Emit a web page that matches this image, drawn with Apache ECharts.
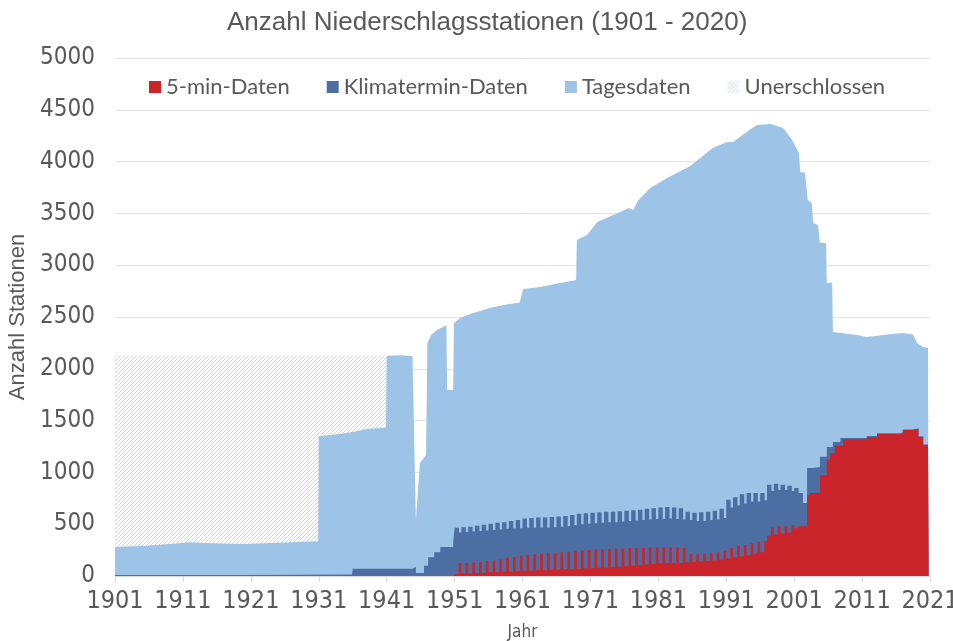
<!DOCTYPE html>
<html>
<head>
<meta charset="utf-8">
<script src="https://cdn.jsdelivr.net/npm/echarts@6/dist/echarts.min.js"></script>
<style>
  html, body { margin: 0; padding: 0; background: #fff; }
  #chart { width: 953px; height: 641px; }
</style>
</head>
<body>
<div id="chart"></div>
<script>
// Achsen
const xTicks = [1901, 1911, 1921, 1931, 1941, 1951, 1961, 1971, 1981, 1991, 2001, 2011, 2021]

// Tagesdaten (Gesamtzahl), [Jahr, Stationen]
const tagesdaten = [
  [1901, 280], [1905, 290], [1909, 310], [1912, 325], [1915, 315], [1920, 310], [1925, 320],
  [1930.9, 335], [1931, 1350], [1934, 1370], [1936, 1390], [1938, 1420], [1940.9, 1430],
  [1941, 2125], [1943, 2130], [1944.8, 2120], [1945.3, 540], [1945.9, 1090], [1946.8, 1170],
  [1947, 2250], [1947.6, 2330], [1948.4, 2375], [1949.8, 2420], [1949.9, 1795], [1950.8, 1795],
  [1950.9, 2440], [1951.8, 2490], [1953.3, 2530], [1956.2, 2587], [1958.2, 2616], [1960.6, 2640],
  [1961.1, 2770], [1963.6, 2790], [1966, 2820], [1968.9, 2857], [1969, 3243], [1970.5, 3292],
  [1972, 3417], [1975.4, 3514], [1976.6, 3552], [1977.3, 3533], [1978, 3623], [1979.8, 3745],
  [1982.3, 3842], [1985.7, 3958], [1989, 4131], [1991.1, 4189], [1992, 4189], [1994, 4286],
  [1995.5, 4353], [1997.5, 4363], [1999.4, 4325], [2000.7, 4209], [2001.7, 4083], [2001.9, 3900],
  [2002.6, 3890], [2003, 3630], [2003.6, 3600], [2003.8, 3407], [2004.5, 3388], [2004.8, 3214],
  [2005.7, 3214], [2005.8, 2828], [2006.6, 2828], [2006.7, 2355], [2010.3, 2326], [2011.7, 2307],
  [2014.7, 2330], [2017, 2345], [2018.5, 2330], [2019.1, 2249], [2020, 2210], [2020.7, 2200],
  [2020.8, 0]
]

// nicht erschlossener Bereich
const unerschlossen = [[1901, 2130], [1941, 2130]]

// Klimatermin-Daten
const klimaVorher = [
  [1901, 10], [1920, 15], [1935.9, 15], [1936, 70], [1944.8, 87], [1945.3, 30], [1946.5, 100],
  [1947.1, 180], [1948, 230], [1948.9, 280], [1950.8, 330]
]
// Jahreswerte 1951-2001 (Maximum und Minimum im Jahr)
const klimaHoch = [
  465, 470, 475, 485, 495, 505, 515, 520, 530, 540,
  555, 560, 565, 565, 570, 575, 580, 590, 600, 605,
  610, 615, 620, 620, 625, 630, 635, 640, 650, 655,
  660, 665, 660, 655, 620, 610, 615, 620, 630, 650,
  735, 760, 790, 800, 800, 800, 880, 890, 880, 870,
  850
]
const klimaTief = [
  420, 425, 430, 435, 440, 445, 450, 455, 460, 460,
  465, 465, 465, 465, 470, 475, 480, 490, 500, 505,
  510, 515, 520, 520, 525, 530, 535, 540, 545, 550,
  550, 555, 550, 545, 540, 530, 530, 540, 545, 560,
  660, 680, 700, 720, 720, 730, 820, 830, 830, 820,
  800
]
const klimaNachher = [
  [2002.3, 704], [2002.9, 1042], [2003.8, 1052], [2004.8, 1150], [2005.8, 1245], [2006.7, 1293],
  [2007.8, 1332], [2011.7, 1352], [2013.2, 1378], [2016.6, 1388], [2017, 1415], [2018.4, 1425],
  [2019.3, 1350], [2020, 1270], [2020.7, 1260], [2020.8, 0]
]

// 5-min-Daten
const minHoch = [
  125, 125, 130, 135, 145, 150, 160, 175, 185, 195,
  205, 210, 215, 220, 225, 230, 235, 240, 245, 250,
  255, 255, 260, 265, 265, 270, 270, 270, 275, 275,
  275, 275, 275, 270, 215, 210, 215, 220, 230, 245,
  270, 290, 300, 315, 330, 340, 470, 480, 480, 490,
  480
]
const minTief = [
  20, 25, 25, 30, 30, 35, 35, 40, 40, 45,
  50, 50, 55, 55, 60, 60, 65, 65, 70, 75,
  75, 80, 80, 85, 90, 95, 100, 105, 110, 115,
  120, 125, 125, 125, 130, 135, 140, 145, 150, 160,
  170, 180, 190, 200, 215, 230, 390, 400, 410, 420,
  460
]
const minNachher = [
  [2002.3, 480], [2002.9, 780], [2003.3, 800], [2004.8, 970], [2005.8, 1120], [2006.3, 1185],
  [2007, 1260], [2008.2, 1320], [2011.7, 1342], [2013.2, 1370], [2016.6, 1380], [2017, 1409],
  [2018.4, 1419], [2019.3, 1342], [2020, 1264], [2020.7, 1255], [2020.8, 0]
]

const ersteJahr = 1951

// Zahnmuster: je Jahr ein hoher und ein tiefer Wert
function zaehne(hoch, tief, hochZuerst) {
  const pts = []
  hoch.forEach((h, i) => {
    const j = ersteJahr + i
    if (hochZuerst) {
      pts.push([j, h], [j + 0.65, tief[i]])
    } else {
      pts.push([j, tief[i]], [j + 0.6, h])
    }
  })
  return pts
}

const klimaDaten = klimaVorher.concat(zaehne(klimaHoch, klimaTief, true), klimaNachher)
const minDaten = [[1901, 0], [1950.9, 0]].concat(zaehne(minHoch, minTief, false), minNachher)

// Schraffur
function schraffur() {
  const c = document.createElement('canvas')
  c.width = 4
  c.height = 4
  const g = c.getContext('2d')
  g.fillStyle = '#ffffff'
  g.fillRect(0, 0, 4, 4)
  g.strokeStyle = '#cbd6ea'
  g.lineWidth = 1
  g.beginPath()
  g.moveTo(0, 4); g.lineTo(4, 0)
  g.moveTo(-1, 1); g.lineTo(1, -1)
  g.moveTo(3, 5); g.lineTo(5, 3)
  g.stroke()
  return { image: c, repeat: 'repeat' }
}

const farben = {
  min: '#c9252a',
  klima: '#4c6ea3',
  tag: '#9dc3e6'
}

const mychart = echarts.init(document.getElementById('chart'))
const muster = schraffur()
const grau = '#595959'
const schmal = "'Liberation Sans Narrow', 'DejaVu Sans Condensed', 'Liberation Sans', sans-serif"

mychart.setOption({
  animation: false,
  title: {
    text: 'Anzahl Niederschlagsstationen (1901 - 2020)',
    left: 222,
    top: 5,
    textStyle: {
      fontFamily: 'Liberation Sans',
      fontSize: 26,
      fontWeight: 'normal',
      color: grau
    }
  },
  legend: {
    left: 144,
    top: 71,
    icon: 'rect',
    itemWidth: 12,
    itemHeight: 12,
    itemGap: 37,
    textStyle: { fontFamily: 'Lato', fontSize: 22, color: grau },
    data: [
      { name: '5-min-Daten', itemStyle: { color: farben.min } },
      { name: 'Klimatermin-Daten', itemStyle: { color: farben.klima } },
      { name: 'Tagesdaten', itemStyle: { color: farben.tag } },
      { name: 'Unerschlossen', itemStyle: { color: muster } }
    ]
  },
  grid: {
    left: 115,
    right: 23,
    top: 58,
    bottom: 65,
    outerBoundsMode: 'none'
  },
  xAxis: {
    type: 'value',
    min: 1901,
    max: 2021,
    name: 'Jahr',
    nameLocation: 'middle',
    nameGap: 48,
    nameTextStyle: { fontFamily: schmal, fontSize: 17, color: grau },
    axisLine: { show: true, lineStyle: { color: '#d9d9d9' } },
    axisTick: { show: true, length: 6, lineStyle: { color: '#d9d9d9' }, customValues: xTicks },
    axisLabel: {
      customValues: xTicks,
      formatter: v => String(v),
      fontFamily: schmal,
      fontSize: 25,
      color: grau,
      margin: 13
    },
    splitLine: { show: false }
  },
  yAxis: {
    type: 'value',
    min: 0,
    max: 5000,
    interval: 500,
    name: 'Anzahl Stationen',
    nameLocation: 'middle',
    nameGap: 81,
    nameTextStyle: { fontFamily: 'Liberation Sans', fontSize: 22, color: grau },
    axisLine: { show: false },
    axisTick: { show: false },
    axisLabel: {
      formatter: v => String(v),
      fontFamily: schmal,
      fontSize: 24,
      color: grau,
      margin: 20
    },
    splitLine: { show: true, lineStyle: { color: '#e3e3e3' } }
  },
  series: [
    {
      name: 'Unerschlossen',
      type: 'line',
      symbol: 'none',
      lineStyle: { width: 0 },
      itemStyle: { color: muster },
      areaStyle: { color: muster, opacity: 1 },
      data: unerschlossen
    },
    {
      name: 'Tagesdaten',
      type: 'line',
      symbol: 'none',
      lineStyle: { width: 0 },
      itemStyle: { color: farben.tag },
      areaStyle: { color: farben.tag, opacity: 1 },
      data: tagesdaten
    },
    {
      name: 'Klimatermin-Daten',
      type: 'line',
      step: 'end',
      symbol: 'none',
      lineStyle: { width: 0 },
      itemStyle: { color: farben.klima },
      areaStyle: { color: farben.klima, opacity: 1 },
      data: klimaDaten
    },
    {
      name: '5-min-Daten',
      type: 'line',
      step: 'end',
      symbol: 'none',
      lineStyle: { width: 0 },
      itemStyle: { color: farben.min },
      areaStyle: { color: farben.min, opacity: 1 },
      data: minDaten
    }
  ]
})
</script>
</body>
</html>
